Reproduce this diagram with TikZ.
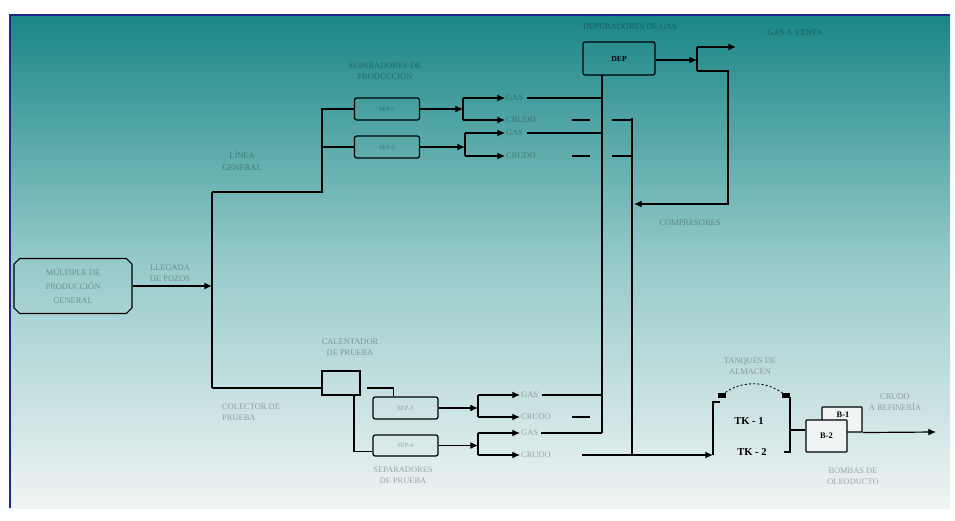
\documentclass[tikz,border=0pt]{standalone}
\usepackage{fontspec}
\setmainfont{Liberation Serif}
\usepackage{tikz}
\usetikzlibrary{positioning,shapes.misc,arrows.meta}
\definecolor{tealtop}{RGB}{26,134,134}
\definecolor{tealmid}{RGB}{150,202,202}
\definecolor{tealbot}{RGB}{240,244,244}
\definecolor{framebl}{RGB}{30,40,140}
\tikzstyle{pipe}=[line width=1.7pt]
\tikzstyle{flow}=[pipe, -{Latex[length=11pt,width=10pt]}]
\tikzstyle{tag}=[font=\fontsize{12}{16}\selectfont, text=black, text opacity=0.3,
        align=center, inner sep=1.5pt]
\tikzstyle{vessel}=[rectangle, draw=black, line width=1.7pt, rounded corners=3pt,
        minimum width=3.25cm, minimum height=1.1cm, inner sep=0pt,
        font=\fontsize{9}{10}\selectfont, text=black, text opacity=0.3]
\tikzstyle{pump}=[rectangle, draw=black, line width=1.5pt, rounded corners=1pt,
        fill=tealbot, inner sep=0pt]
\tikzstyle{tkname}=[font=\fontsize{15}{16}\bfseries, text=black, inner sep=1pt]

\begin{document}
\begin{tikzpicture}[x=0.05cm, y=-0.05cm]
	\useasboundingbox (0,0) rectangle (955,521);
	% background and frame
	\shade[top color=tealtop, bottom color=tealbot, middle color=tealmid] (10,15) rectangle (950,508);
	\draw[framebl, line width=2.4pt] (10,508) -- (10,15) -- (950,15);

	% production manifold
	\node (Manifold) [chamfered rectangle, chamfered rectangle xsep=4pt, chamfered rectangle ysep=4pt,
		draw=black, line width=1.7pt, minimum width=5.9cm, minimum height=2.75cm,
		font=\fontsize{12}{20}\selectfont, text=black, text opacity=0.3, align=center] at (73,286)
        {MÚLTIPLE DE\\PRODUCCIÓN\\GENERAL};
	\node (InletTag) [tag] at (170,273) {LLEGADA\\DE POZOS};
	\coordinate (Inlet) at (212,286);
	\coordinate (GenTop) at (212,192);
	\coordinate (TestBot) at (212,388);
	\coordinate (GenRise) at (322,192);
	\coordinate (GenHead) at (322,109);
	\node (GenTag) [tag] at (242,161) {LÍNEA\\GENERAL};

	% production separators
	\node (Sep1) [vessel] at (387,109) {SEP-1};
	\node (Sep2) [vessel] at (387,147) {SEP-2};
	\node (ProdTag) [tag] at (385,71) {SEPARADORES DE\\PRODUCCIÓN};

	\node (Gas1) [tag, anchor=west] at (505,98) {GAS};
	\node (Oil1) [tag, anchor=west] at (505,120) {CRUDO};
	\node (Gas2) [tag, anchor=west] at (505,133) {GAS};
	\node (Oil2) [tag, anchor=west] at (505,156) {CRUDO};
	\coordinate (J1) at (463,109);
	\coordinate (J2) at (465,147);

	% scrubber and gas header
	\node (Dep) [vessel, minimum width=3.6cm, minimum height=1.65cm, text opacity=1,
		font=\fontsize{11}{12}\bfseries] at (619,58.5) {DEP};
	\node (DepTag) [tag] at (630,27) {DEPURADORES DE GAS};
	\coordinate (GasTop) at (602,75);
	\coordinate (GasEnd) at (602,433);
	\coordinate (OilTop) at (632,118);
	\coordinate (OilEnd) at (632,455);
	\coordinate (Mix) at (697,60);
	\coordinate (MixUp) at (697,47);
	\coordinate (MixDn) at (697,71);
	\coordinate (Sales) at (736,47);
	\node (SalesTag) [tag] at (795,33) {GAS A VENTA};
	\coordinate (CompA) at (728,71);
	\coordinate (CompB) at (728,204);
	\coordinate (CompC) at (634,204);
	\node (CompTag) [tag] at (690,223) {COMPRESORES};

	% test train
	\node (Heater) [draw=black, line width=1.7pt, minimum width=1.9cm, minimum height=1.2cm] at (341,383) {};
	\node (HeatTag) [tag] at (350,347) {CALENTADOR\\DE PRUEBA};
	\node (TestTag) [tag, anchor=west, align=left] at (221,412) {COLECTOR DE\\PRUEBA};
	\coordinate (HeatOut) at (367,388);
	\node (Sep3) [vessel] at (405.5,408) {SEP-3};
	\node (Sep4) [vessel, minimum height=1.05cm] at (405.5,445.5) {SEP-4};
	\node (TestSepTag) [tag] at (403,475) {SEPARADORES\\DE PRUEBA};
	\node (Gas3) [tag, anchor=west] at (520,395) {GAS};
	\node (Oil3) [tag, anchor=west] at (520,417) {CRUDO};
	\node (Gas4) [tag, anchor=west] at (520,433) {GAS};
	\node (Oil4) [tag, anchor=west] at (520,455) {CRUDO};
	\coordinate (J3) at (478,408);
	\coordinate (J4) at (478,445.5);

	% storage tanks and pumps
	\coordinate (TkIn) at (713,455);
	\coordinate (TkNW) at (713,402);
	\coordinate (TkNE) at (790,397);
	\coordinate (TkSE) at (790,452);
	\coordinate (TkOut) at (790,430);
	\node (Tk1) [tkname] at (749,421) {TK - 1};
	\node (Tk2) [tkname] at (752,452) {TK - 2};
	\node (TkTag) [tag] at (750,366) {TANQUES DE\\ALMACÉN};
	\node (Pump1) [pump, minimum width=2cm, minimum height=1.25cm] at (842,419.5) {};
	\node (Pump1Name) [font=\fontsize{12}{13}\bfseries, inner sep=0pt] at (843,415) {B-1};
	\node (Pump2) [pump, minimum width=2.05cm, minimum height=1.6cm, font=\fontsize{12}{13}\bfseries] at (826.5,436) {B-2};
	\coordinate (Refinery) at (936,432);
	\node (RefTag) [tag] at (895,402) {CRUDO\\A REFINERÍA};
	\node (PumpTag) [tag] at (853,476) {BOMBAS DE\\OLEODUCTO};

	% connectors
	\draw[flow] (Manifold.east) -- (Inlet);
	\draw[pipe] (GenTop) -- (TestBot);
	\draw[pipe] (GenTop) -- (GenRise) -- (GenHead) -- (Sep1.west);
	\draw[pipe] (GenRise |- Sep2.west) -- (Sep2.west);

	\draw[flow] (Sep1.east) -- (J1);
	\draw[pipe] (J1 |- Gas1) -- (J1 |- Oil1);
	\draw[flow] (J1 |- Gas1) -- (Gas1.west);
	\draw[flow] (J1 |- Oil1) -- (Oil1.west);
	\draw[flow] (Sep2.east) -- (J2);
	\draw[pipe] (J2 |- Gas2) -- (J2 |- Oil2);
	\draw[flow] (J2 |- Gas2) -- (Gas2.west);
	\draw[flow] (J2 |- Oil2) -- (Oil2.west);

	\draw[pipe] (GasTop) -- (GasEnd);
	\draw[pipe] (OilTop) -- (OilEnd);
	\draw[pipe] ([xshift=4pt]Gas1.east) -- (Gas1 -| GasTop);
	\draw[pipe] ([xshift=4pt]Gas2.east) -- (Gas2 -| GasTop);
	\draw[pipe] ([xshift=-1.5cm]Oil1 -| GasTop) -- ([xshift=-0.6cm]Oil1 -| GasTop);
	\draw[pipe] ([xshift=0.5cm]Oil1 -| GasTop) -- (Oil1 -| OilTop);
	\draw[pipe] ([xshift=-1.5cm]Oil2 -| GasTop) -- ([xshift=-0.6cm]Oil2 -| GasTop);
	\draw[pipe] ([xshift=0.5cm]Oil2 -| GasTop) -- (Oil2 -| OilTop);

	\draw[flow] (Dep.east |- Mix) -- (Mix);
	\draw[pipe] (MixUp) -- (MixDn);
	\draw[flow] (MixUp) -- (Sales);
	\draw[flow] (MixDn) -- (CompA) -- (CompB) -- (CompC);

	\draw[pipe] (TestBot) -- (TestBot -| Heater.west);
	\draw[pipe] (HeatOut) -| ([xshift=-0.6cm]Sep3.north);
	\draw[pipe] ([xshift=0.65cm]Heater.south) |- ([yshift=-0.3cm]Sep4.west);

	\draw[flow] (Sep3.east) -- (J3);
	\draw[pipe] (J3 |- Gas3) -- (J3 |- Oil3);
	\draw[flow] (J3 |- Gas3) -- (Gas3.west);
	\draw[flow] (J3 |- Oil3) -- (Oil3.west);
	\draw[flow] (Sep4.east) -- (J4);
	\draw[pipe] (J4 |- Gas4) -- (J4 |- Oil4);
	\draw[flow] (J4 |- Gas4) -- (Gas4.west);
	\draw[flow] (J4 |- Oil4) -- (Oil4.west);

	\draw[pipe] ([xshift=4pt]Gas3.east) -- (Gas3 -| GasTop);
	\draw[pipe] ([xshift=3pt]Gas4.east) -- (Gas4 -| GasTop);
	\draw[pipe] ([xshift=-1.5cm]Oil3 -| GasTop) -- ([xshift=-0.6cm]Oil3 -| GasTop);
	\draw[pipe] ([xshift=-1cm]Oil4 -| GasTop) -- (OilEnd);
	\draw[flow] (OilEnd) -- (TkIn);

	\draw[pipe] (TkIn) -- (TkNW) -- ++(7,0);
	\draw[pipe] (TkNE) -- (TkSE) -- ++(-6,0);
	\draw[pipe, dashed, line width=1.2pt] (722,395) .. controls (740,380) and (767,380) .. (785,395);
	\fill (718,393) rectangle (726,397.5);
	\fill (782,393) rectangle (790,397.5);

	\draw[pipe] (TkOut) -- (TkOut -| Pump2.west);
	\draw[flow] (Pump1.south east) -- (Refinery);

\end{tikzpicture}
\end{document}
